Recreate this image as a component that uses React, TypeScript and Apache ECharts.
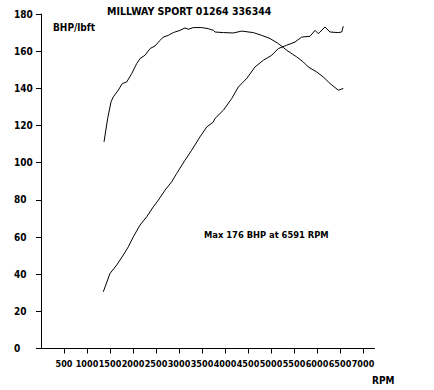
import React, { useEffect, useRef } from "react";
import * as echarts from "echarts";

const torqueRpm = [1370, 1450, 1522, 1572, 1680, 1767, 1863, 1972, 2080, 2152, 2261, 2370, 2478, 2587, 2659, 2767, 2876, 3022, 3130, 3202, 3311, 3494, 3637, 3746, 3783, 3963, 4181, 4363, 4615, 4798, 4978, 5159, 5341, 5559, 5702, 5811, 5994, 6137, 6283, 6463, 6572];
const torqueVal = [111.2, 123.9, 132.7, 135.4, 139.0, 142.6, 143.4, 147.9, 153.3, 156.0, 157.8, 161.4, 162.8, 165.8, 167.6, 168.5, 170.0, 171.2, 172.5, 171.8, 172.7, 172.7, 172.1, 171.2, 170.3, 170.0, 169.8, 170.8, 170.0, 168.5, 166.8, 164.1, 160.5, 156.9, 154.2, 151.5, 148.8, 146.1, 142.6, 139.0, 139.9];

const powerRpm = [1354, 1500, 1646, 1789, 1898, 2007, 2152, 2298, 2441, 2550, 2696, 2841, 2950, 3130, 3276, 3457, 3602, 3746, 3783, 3963, 4146, 4289, 4472, 4652, 4833, 5015, 5159, 5341, 5522, 5668, 5848, 5957, 6028, 6174, 6283, 6463, 6537, 6572];
const powerVal = [30.5, 40.4, 44.9, 50.3, 54.7, 60.1, 66.4, 70.9, 76.2, 79.8, 85.2, 89.7, 94.2, 101.3, 106.7, 113.9, 119.2, 121.9, 123.8, 128.2, 134.5, 140.7, 145.3, 151.5, 155.1, 157.8, 161.4, 163.2, 164.9, 167.6, 168.0, 171.2, 169.4, 173.0, 170.3, 170.0, 170.3, 173.4];

const xTicks = [500, 1000, 1500, 2000, 2500, 3000, 3500, 4000, 4500, 5000, 5500, 6000, 6500, 7000];

const titleText = "MILLWAY SPORT 01264 336344";
const yUnitText = "BHP/lbft";
const maxText = "Max 176 BHP at 6591 RPM";
const xUnitText = "RPM";

const FONT = "'DejaVu Sans Condensed', 'Liberation Sans Narrow', sans-serif";

export default function App() {
  const ref = useRef<HTMLDivElement>(null);
  useEffect(() => {
    if (!ref.current) return;
    const chart = echarts.init(ref.current, undefined, { renderer: "svg" });
    const textStyle = { fontFamily: FONT, fontWeight: "bold" as const, fontSize: 10, fill: "#000" };
    chart.setOption({
      animation: false,
      backgroundColor: "#fff",
      grid: { left: 41, right: 59.5, top: 14, bottom: 41.5, containLabel: false },
      xAxis: {
        type: "value",
        min: 0,
        max: 7250,
        interval: 500,
        axisLine: { show: true, lineStyle: { color: "#000", width: 1 } },
        axisTick: { show: true, length: 5, lineStyle: { color: "#000" }, customValues: xTicks },
        axisLabel: {
          customValues: xTicks,
          formatter: (v: number) => String(v),
          hideOverlap: false,
          color: "#000",
          fontFamily: FONT,
          fontWeight: "bold",
          fontSize: 9,
          margin: 11,
        },
        splitLine: { show: false },
      },
      yAxis: {
        type: "value",
        min: 0,
        max: 180,
        interval: 20,
        axisLine: { show: true, lineStyle: { color: "#000", width: 1 } },
        axisTick: { show: true, length: 5, lineStyle: { color: "#000" } },
        axisLabel: {
          color: "#000",
          fontFamily: FONT,
          fontWeight: "bold",
          fontSize: 10,
          align: "left",
          margin: 27,
        },
        splitLine: { show: false },
      },
      series: [
        {
          type: "line",
          data: torqueRpm.map((r, i) => [r, torqueVal[i]]),
          symbol: "none",
          lineStyle: { color: "#000", width: 1 },
        },
        {
          type: "line",
          data: powerRpm.map((r, i) => [r, powerVal[i]]),
          symbol: "none",
          lineStyle: { color: "#000", width: 1 },
        },
      ],
      graphic: [
        { type: "text", left: 107, top: 5, style: { ...textStyle, fontSize: 10.5, text: titleText } },
        { type: "text", left: 53, top: 22, style: { ...textStyle, text: yUnitText } },
        { type: "text", left: 204, top: 230, style: { ...textStyle, fontSize: 9.3, text: maxText } },
        { type: "text", left: 372, top: 375, style: { ...textStyle, text: xUnitText } },
      ],
    });
    return () => chart.dispose();
  }, []);
  return <div ref={ref} style={{ width: 434, height: 390, position: "absolute", left: 0, top: 0 }} />;
}
